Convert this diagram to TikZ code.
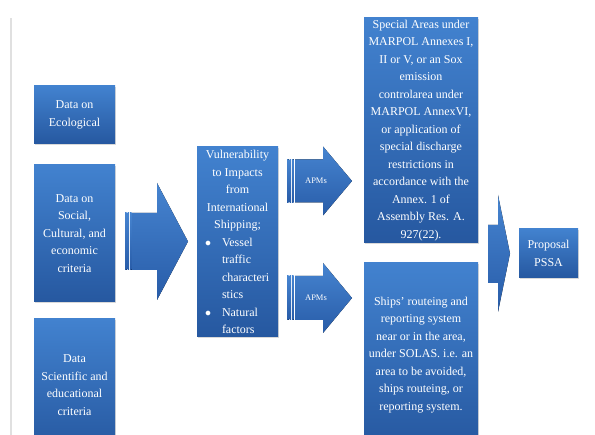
\documentclass[tikz,border=0pt]{standalone}
\usepackage{fontspec}
\setmainfont{Liberation Serif}
\usetikzlibrary{shadows}

\definecolor{blktop}{RGB}{66,130,207}
\definecolor{blkbot}{RGB}{38,88,160}
\definecolor{arrtop}{RGB}{70,132,208}
\definecolor{arrbot}{RGB}{40,92,168}

% fat arrow: stripe x, shaft x, head x, tip x, mid y, shaft half, head half
\newcommand{\fatarrow}[7]{%
\fill[fat] ({#2},{#5-#6}) -- ({#3},{#5-#6}) -- ({#3},{#5-#7}) -- ({#4},{#5})
 -- ({#3},{#5+#7}) -- ({#3},{#5+#6}) -- ({#2},{#5+#6}) -- cycle;
\foreach \s in {0,2.6,5.2}
  \fill[fat] ({#1+\s},{#5-#6}) rectangle ({#1+\s+1.5},{#5+#6});
}
% bullet line inside the vulnerability box
\newcommand{\bul}[2]{\makebox[77pt][l]{\hspace{6pt}\makebox[17pt][l]{#1}#2}}

\begin{document}
\begin{tikzpicture}[x=1pt,y=-1pt,
  blk/.style={draw=none, top color=blktop, bottom color=blkbot, text=white,
    align=center, inner sep=2pt,
    drop shadow={shadow xshift=1.2pt, shadow yshift=-1.5pt, opacity=0.3},
    font=\fontsize{12}{17.5}\selectfont},
  fat/.style={top color=arrtop, bottom color=arrbot, draw=none},
  apm/.style={text=white, font=\fontsize{8.5}{10}\selectfont}]

\useasboundingbox (0,0) rectangle (595,435);
\clip (0,0) rectangle (595,435);

\draw [color=black!12, line width=2.5pt] (11,18) -- (11,435);

% left column
\node [blk, minimum width=81pt, minimum height=58pt] (eco) at (74.5,115) {Data on\\Ecological};
\node [blk, minimum width=81pt, minimum height=137pt] (social) at (74.5,233.5) {Data on\\Social,\\Cultural, and\\economic\\criteria};
\node [blk, minimum width=81pt, minimum height=132pt] (sci) at (74.5,385) {Data\\Scientific and\\educational\\criteria};

\fatarrow{125}{132}{157}{188}{241.5}{28.5}{58.5}

% vulnerability
\node [blk, minimum width=81pt, minimum height=190pt] (vuln) at (237.5,242)
 {Vulnerability\\to Impacts\\from\\International\\Shipping;\\
  \bul{$\bullet$}{Vessel}\\\bul{}{traffic}\\\bul{}{characteri}\\\bul{}{stics}\\
  \bul{$\bullet$}{Natural}\\\bul{}{factors}};

\fatarrow{287}{295}{323}{352}{181}{21.5}{34.5}
\fatarrow{287}{295}{323}{352}{298}{22}{35}
\node [apm] (apm1) at (316,181) {APMs};
\node [apm] (apm2) at (316,298) {APMs};

% measures
\node [blk, minimum width=114pt, minimum height=225pt] (special) at (421,130.5)
 {Special Areas under\\MARPOL Annexes I,\\II or V, or an Sox\\emission\\controlarea under\\MARPOL AnnexVI,\\or application of\\special discharge\\restrictions in\\accordance with the\\Annex. 1 of\\Assembly Res. A.\\927(22).};
\node [blk, minimum width=114pt, minimum height=184pt] (ships) at (421,355)
 {Ships' routeing and\\reporting system\\near or in the area,\\under SOLAS. i.e. an\\area to be avoided,\\ships routeing, or\\reporting system.};

%\draw (special.east) -- (pssa.west);
\fill[fat] (488,225) -- (498,225) -- (498,195) -- (510,253.5) -- (498,312) -- (498,283) -- (488,283) -- cycle;

\node [blk, minimum width=59pt, minimum height=49pt] (pssa) at (548.5,253.5) {Proposal\\PSSA};

\end{tikzpicture}
\end{document}
